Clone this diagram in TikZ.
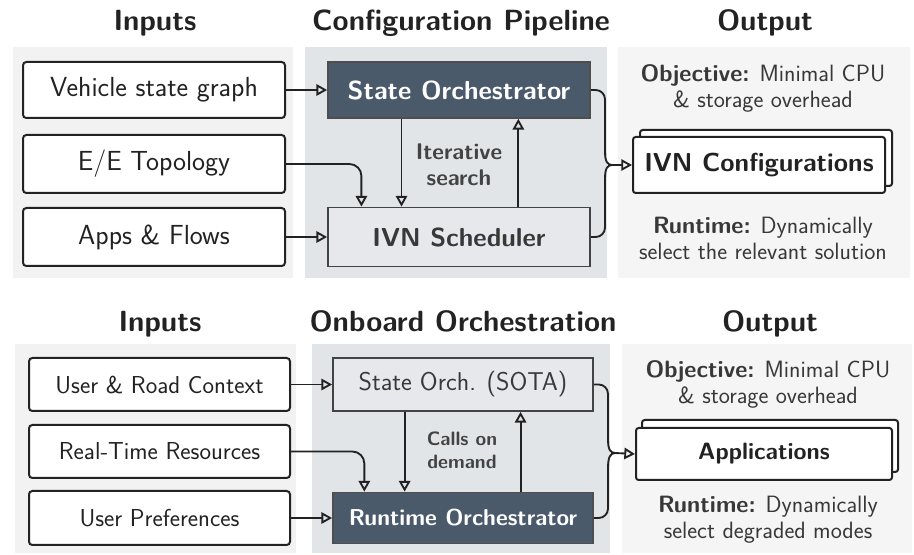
\documentclass[tikz,border=0pt]{standalone}
\usepackage{fontspec}
\usetikzlibrary{arrows.meta,calc}
\def\pxu{0.75pt}
\definecolor{ink}{HTML}{222222}
\definecolor{slate}{HTML}{4B5A6B}
\definecolor{lightbox}{HTML}{E6E8EB}
\definecolor{panelin}{HTML}{F2F2F2}
\definecolor{panelmid}{HTML}{E2E5E8}
\definecolor{panelout}{HTML}{F5F5F5}
\tikzset{
  title/.style={font=\sffamily\bfseries\fontsize{21.9}{25}\selectfont, text=ink, anchor=base},
  inbox/.style={draw=ink, line width=1.5pt, rounded corners=2.5pt, fill=white, text=ink,
    minimum width=262*\pxu, inner sep=0pt},
  darkbox/.style={draw=ink!80, line width=1.3pt, fill=slate, text=white,
    minimum width=262*\pxu, inner sep=0pt},
  litbox/.style={draw=ink!85, line width=1.3pt, fill=lightbox, text=ink!90,
    minimum width=262*\pxu, inner sep=0pt},
  outbox/.style={draw=ink, line width=1.5pt, rounded corners=2pt, fill=white, text=ink,
    minimum width=252*\pxu, inner sep=0pt},
  conn/.style={draw=ink, line width=1.4pt},
  arr/.style={conn, -{Triangle[open,length=8pt,width=8.5pt]}},
  note/.style={font=\sffamily\fontsize{17.7}{19.5}\selectfont, text=ink!90, align=center},
  midlbl/.style={font=\sffamily\bfseries\fontsize{17}{19.5}\selectfont, text=ink!85, align=center},
}
\begin{document}
\begin{tikzpicture}[x=\pxu, y=-\pxu, font=\sffamily]
\useasboundingbox (0,0) rectangle (914,555);
\fill[white] (0,0) rectangle (914,555);

% ---------- background panels ----------
\fill[panelin]  (13,47)  rectangle (293,278);
\fill[panelmid] (305,47) rectangle (607,278);
\fill[panelout] (618,47) rectangle (910,278);
\fill[panelin]  (15,344) rectangle (296,553);
\fill[panelmid] (312,344) rectangle (610,553);
\fill[panelout] (622,344) rectangle (912,553);

% ================= upper pipeline =================
\node[title] (tIn)  at (155,31) {Inputs};
\node[title] (tMid) at (461,31) {Configuration Pipeline};
\node[title] (tOut) at (765,31) {Output};

\begin{scope}[every node/.append style={font=\sffamily\fontsize{20.7}{24}\selectfont}]
\node[inbox, minimum height=56*\pxu] (v1) at (154,90)  {Vehicle state graph};
\node[inbox, minimum height=58*\pxu] (v2) at (154,164) {E/E Topology};
\node[inbox, minimum height=58*\pxu] (v3) at (154,237) {Apps \& Flows};
\node[darkbox, minimum height=56*\pxu, font=\sffamily\bfseries\fontsize{19.5}{22}\selectfont] (so) at (459,90) {State Orchestrator};
\node[litbox, minimum height=59*\pxu, font=\sffamily\bfseries\fontsize{19.5}{22}\selectfont] (ivn) at (459,237) {IVN Scheduler};
\end{scope}

\node[midlbl] (it) at (459,165) {Iterative\\search};

\draw[arr] (v1.east) -- (so.west);
\draw[arr] (v3.east) -- (ivn.west);
\draw[arr, rounded corners=9pt] (v2.east) -| ($(ivn.north west)!0.13!(ivn.north east)$);
\draw[arr] ($(so.south west)!0.282!(so.south east)$) -- ($(ivn.north west)!0.282!(ivn.north east)$);
\draw[arr] ($(ivn.north west)!0.725!(ivn.north east)$) -- ($(so.south west)!0.725!(so.south east)$);

% output stack
\node[outbox, minimum height=56*\pxu] (cfgback) at (766,158) {};
\node[outbox, minimum height=56*\pxu, font=\sffamily\bfseries\fontsize{19.5}{22}\selectfont] (cfg) at (759,165) {IVN Configurations};

% merge of both orchestration outputs
\coordinate (j1) at (612,165);
\draw[conn, rounded corners=7pt] (so.east) -- (605,90) -- (605,152);
\draw[conn] (605,151) .. controls (605,161) and (607,165) .. (j1);
\draw[conn, rounded corners=7pt] (ivn.east) -- (605,237) -- (605,178);
\draw[conn] (605,179) .. controls (605,169) and (607,165) .. (j1);
\draw[arr] (j1) -- (cfg.west);

\node[note] (obj1) at (763,88) {\textbf{Objective:} Minimal CPU\\\& storage overhead};
\node[note] (run1) at (763,238.5) {\textbf{Runtime:} Dynamically\\select the relevant solution};

% ================= lower pipeline =================
\node[title] (bIn)  at (160,332) {Inputs};
\node[title] (bMid) at (463,332) {Onboard Orchestration};
\node[title] (bOut) at (770,332) {Output};

\begin{scope}[every node/.append style={font=\sffamily\fontsize{18.4}{22}\selectfont}]
\node[inbox, minimum width=261*\pxu, minimum height=53*\pxu] (u1) at (159.5,384.5) {User \& Road Context};
\node[inbox, minimum width=261*\pxu, minimum height=53*\pxu] (u2) at (159.5,451.5) {Real-Time Resources};
\node[inbox, minimum width=261*\pxu, minimum height=54*\pxu] (u3) at (159.5,518)   {User Preferences};
\node[litbox, minimum width=260*\pxu, minimum height=53*\pxu, font=\sffamily\fontsize{19.3}{22}\selectfont] (sota) at (463,384.5) {State Orch. (SOTA)};
\node[darkbox, minimum width=260*\pxu, minimum height=51*\pxu, font=\sffamily\bfseries\fontsize{17.2}{21}\selectfont] (rt) at (463,518) {Runtime Orchestrator};
\end{scope}

\node[midlbl, font=\sffamily\bfseries\fontsize{14.5}{17}\selectfont] (cod) at (462,450) {Calls on\\demand};

\draw[arr] (u1.east) -- (sota.west);
\draw[arr] (u3.east) -- (rt.west);
\draw[arr, rounded corners=9pt] (u2.east) -| ($(rt.north west)!0.123!(rt.north east)$);
\draw[arr] ($(sota.south west)!0.277!(sota.south east)$) -- ($(rt.north west)!0.277!(rt.north east)$);
\draw[arr] ($(rt.north west)!0.72!(rt.north east)$) -- ($(sota.south west)!0.72!(sota.south east)$);

% output stack
\node[outbox, minimum width=256*\pxu, minimum height=52*\pxu] (appback) at (770,446) {};
\node[outbox, minimum width=256*\pxu, minimum height=52*\pxu, font=\sffamily\bfseries\fontsize{17.7}{20}\selectfont] (app) at (764,454) {Applications};

\coordinate (j2) at (615,453);
\draw[conn, rounded corners=7pt] (sota.east) -- (608,384.5) -- (608,440);
\draw[conn] (608,439) .. controls (608,449) and (610,453) .. (j2);
\draw[conn, rounded corners=7pt] (rt.east) -- (608,518) -- (608,467);
\draw[conn] (608,468) .. controls (608,458) and (610,453) .. (j2);
\draw[arr] (j2) -- (app.west);

\node[note] (obj2) at (768,384) {\textbf{Objective:} Minimal CPU\\\& storage overhead};
\node[note] (run2) at (768,520) {\textbf{Runtime:} Dynamically\\select degraded modes};
\end{tikzpicture}
\end{document}
